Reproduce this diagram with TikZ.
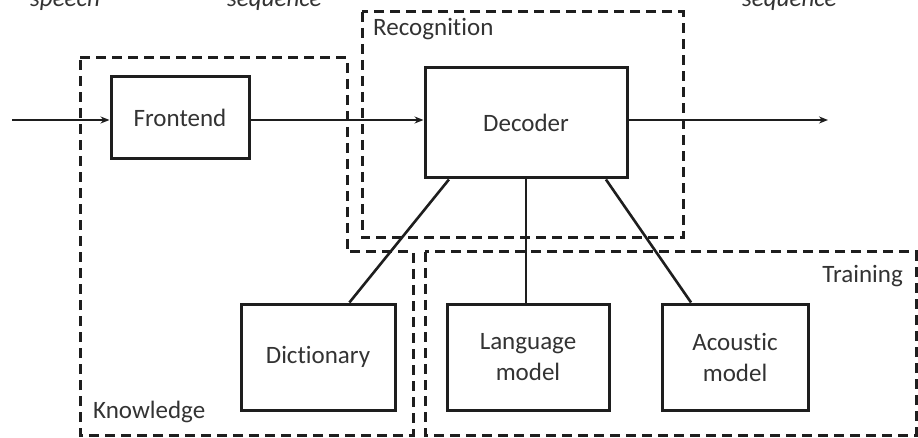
\documentclass[tikz,border=0pt]{standalone}
\usepackage{fontspec}
\setmainfont[Ligatures=CommonOff]{Carlito}
\usetikzlibrary{calc,arrows.meta}
\definecolor{ink}{HTML}{1E1E1E}
\definecolor{txt}{HTML}{333333}
\begin{document}
\begin{tikzpicture}[x=1pt,y=-1pt,
  every node/.style={font=\fontsize{25}{31}\selectfont, text=txt},
  blockbox/.style={draw=ink, line width=3pt, inner sep=0pt, align=center},
  region/.style={draw=ink, line width=3pt, dash pattern=on 10pt off 6pt},
  conn/.style={draw=ink, line width=2.6pt},
  arr/.style={conn, -{Stealth[length=9pt,width=7pt]}},
  toplabel/.style={font=\fontsize{25}{31}\selectfont\itshape, anchor=base west, inner sep=0pt},
  regionlabel/.style={inner sep=0pt}]
\clip (0,0) rectangle (918,438);
\fill[white] (0,0) rectangle (918,438);

% regions
\draw[region] (80,58) -- (347,58) -- (347,252) -- (413,252) -- (413,435) -- (80,435) -- cycle;
\draw[region] (362,12) rectangle (683,238);
\draw[region] (425,252) rectangle (916,435);

% region labels
\node[regionlabel, anchor=base west] (lrec) at (373,36) {Recognition};
\node[regionlabel, anchor=base west] (lkno) at (93,418) {Knowledge};
\node[regionlabel, anchor=base east] (ltra) at (903,283) {Training};

% top labels (cut by the frame, as in the reference)
\node[toplabel] (tspeech) at (30,6.5) {speech};
\node[toplabel] (tseq1) at (227,6.5) {sequence};
\node[toplabel] (tseq2) at (742,6.5) {sequence};

% blocks
\node[blockbox, minimum width=138pt, minimum height=82pt] (fe) at (180,118) {Frontend};
\node[blockbox, minimum width=202pt, minimum height=110pt] (dec) at (526,123) {Decoder};
\node[blockbox, minimum width=154pt, minimum height=106pt] (dict) at (318,357) {Dictionary};
\node[blockbox, minimum width=162pt, minimum height=106pt] (lm) at (528,357) {Language\\model};
\node[blockbox, minimum width=146pt, minimum height=106pt] (am) at (735,357) {Acoustic\\model};

% main signal line
\coordinate (in) at (12,120);
\coordinate (out) at (828,120);
\draw[arr] (in) -- (in -| fe.west);
\draw[arr] (in -| fe.east) -- (in -| dec.west);
\draw[arr] (in -| dec.east) -- (out);

% decoder to knowledge sources
\draw[conn] ($(dec.south west)!0.124!(dec.south east)$) -- ($(dict.north west)!0.70!(dict.north east)$);
\draw[conn] (dec.south -| lm.north) ++(-2,0) -- ($(lm.north)+(-2,0)$);
\draw[conn] ($(dec.south west)!0.89!(dec.south east)$) -- ($(am.north west)!0.205!(am.north east)$);
\end{tikzpicture}
\end{document}
